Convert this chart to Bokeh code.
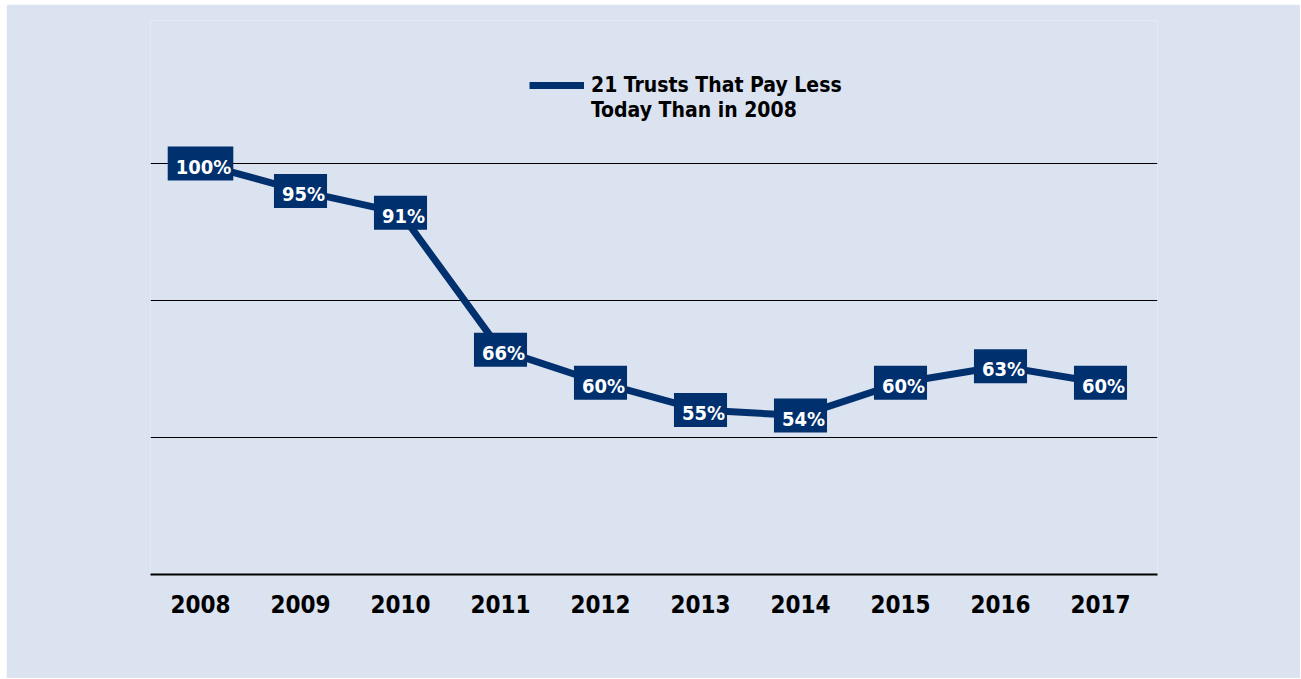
from bokeh.plotting import figure
from bokeh.models import Range1d, FixedTicker, Legend, LegendItem, ColumnDataSource
from bokeh.core.properties import value
from bokeh.embed import file_html
from bokeh.resources import INLINE

years = [2008, 2009, 2010, 2011, 2012, 2013, 2014, 2015, 2016, 2017]
pct = [100, 95, 91, 66, 60, 55, 54, 60, 63, 60]
labels = [f"{v}%" for v in pct]
legend_lines = ["21 Trusts That Pay Less", "Today Than in 2008"]

FONT = "'DejaVu Sans Condensed', sans-serif"
NAVY = "#00306e"
BG = "#dbe2f0"

src = ColumnDataSource(dict(x=years, y=pct, t=labels))

p = figure(width=1294, height=674, frame_width=1007, frame_height=554,
           output_backend="svg", toolbar_location=None,
           x_range=Range1d(2007.5, 2017.57), y_range=Range1d(25, 126.1),
           min_border_left=144, min_border_right=143, min_border_top=16,
           min_border_bottom=104, margin=(4, 0, 0, 6),
           background_fill_color=BG, border_fill_color=BG, outline_line_color=None)

p.yaxis.visible = False
p.xgrid.visible = False
p.ygrid.ticker = FixedTicker(ticks=[50, 75, 100])
p.ygrid.grid_line_color = "black"
p.ygrid.grid_line_width = 1

p.xaxis.ticker = FixedTicker(ticks=years)
p.xaxis.axis_line_color = "black"
p.xaxis.axis_line_width = 2
p.xaxis.major_tick_line_color = None
p.xaxis.minor_tick_line_color = None
p.xaxis.major_label_text_font = FONT
p.xaxis.major_label_text_font_style = "bold"
p.xaxis.major_label_text_font_size = "24px"
p.xaxis.major_label_text_color = "black"
p.xaxis.major_label_standoff = 14

line = p.line("x", "y", source=src, line_color=NAVY, line_width=7)
ghost = p.line("x", "y", source=src, line_alpha=0)
p.text("x", "y", text="t", source=src, text_align="center", text_baseline="middle",
       text_color="white", text_font=value(FONT), text_font_style="bold",
       text_font_size="20px", background_fill_color=NAVY, padding=[8, 2, 8, 2])

legend = Legend(items=[LegendItem(label=legend_lines[0], renderers=[line]),
                       LegendItem(label=legend_lines[1], renderers=[ghost])],
                location=(379, 452), orientation="vertical",
                background_fill_alpha=0, border_line_color=None,
                label_text_font=FONT, label_text_font_style="bold",
                label_text_font_size="21px", label_text_color="black",
                glyph_width=55, glyph_height=22, label_standoff=7,
                spacing=1, label_height=22)
p.add_layout(legend, "center")

open("out.html", "w").write(file_html(p, INLINE))
